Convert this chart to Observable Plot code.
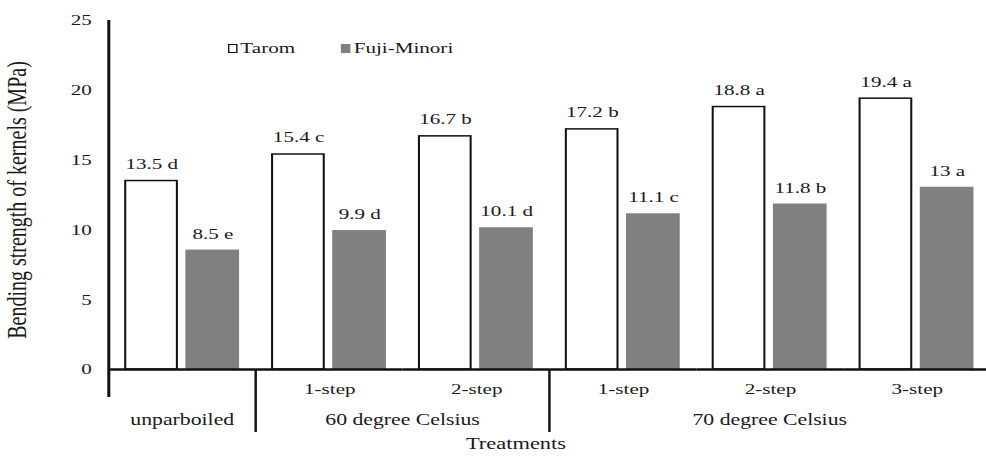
<!DOCTYPE html>
<html>
<head>
<meta charset="utf-8">
<script src="https://cdn.jsdelivr.net/npm/d3@7"></script>
<script src="https://cdn.jsdelivr.net/npm/@observablehq/plot@0.6"></script>
<style>
  html, body { margin: 0; padding: 0; background: #fff; }
  #wrap { position: relative; width: 986px; height: 458px; overflow: hidden; background: #fff; }
  #wrap, #wrap svg, #wrap svg text, #wrap div, #wrap span { font-family: "Liberation Serif", "Times New Roman", serif !important; }
  #chart svg { display: block; transform-origin: 0 0; }
  #legend { position: absolute; left: 228px; top: 39px; transform-origin: 0 0;
            font-size: 15.5px; color: #1a1a1a;
            white-space: nowrap; display: flex; align-items: center; }
  #legend .item { display: flex; align-items: center; }
  #legend .sw { display: inline-block; width: 6.6px; height: 9px; box-sizing: border-box; margin-right: 2.5px; }
</style>
</head>
<body>
<div id="wrap"><div id="chart"></div><div id="legend"></div></div>
<script>
// ---- data ----
const varieties = ["Tarom", "Fuji-Minori"];
const varietyFills = ["#ffffff", "#808080"];
const varietyStrokes = ["#111111", "#808080"];
const temperatureGroups = ["unparboiled", "60 degree Celsius", "60 degree Celsius",
                           "70 degree Celsius", "70 degree Celsius", "70 degree Celsius"];
const stepLabels = ["", "1-step", "2-step", "1-step", "2-step", "3-step"];
const taromValues = [13.5, 15.4, 16.7, 17.2, 18.8, 19.4];
const taromLetters = ["d", "c", "b", "b", "a", "a"];
const fujiValues = [8.5, 9.9, 10.1, 11.1, 11.8, 13];
const fujiLetters = ["e", "d", "d", "c", "b", "a"];
const yTicks = [0, 5, 10, 15, 20, 25];
const yLabel = "Bending strength of kernels (MPa)";
const xLabel = "Treatments";

// ---- derived tables ----
const S = 1.36; // horizontal stretch of the reference image
const treatmentIds = temperatureGroups.map((g, i) => `${g} ${stepLabels[i]}`.trim());
const stepById = new Map(treatmentIds.map((t, i) => [t, stepLabels[i]]));
const fillBy = new Map(varieties.map((v, i) => [v, varietyFills[i]]));
const strokeBy = new Map(varieties.map((v, i) => [v, varietyStrokes[i]]));
const rows = treatmentIds.flatMap((t, i) => [
  {treatment: t, variety: varieties[0], value: taromValues[i], letter: taromLetters[i]},
  {treatment: t, variety: varieties[1], value: fujiValues[i], letter: fujiLetters[i]}
]);
const groups = [];
temperatureGroups.forEach((g, i) => {
  const last = groups[groups.length - 1];
  if (last && last.name === g) last.members.push(treatmentIds[i]);
  else groups.push({name: g, members: [treatmentIds[i]]});
});

const chart = Plot.plot({
  width: 1000 / S,
  height: 458,
  marginLeft: 106 / S,
  marginRight: 6 / S,
  marginTop: 20,
  marginBottom: 89,
  style: {fontFamily: "Liberation Serif, serif", fontSize: "15.5px", color: "#1a1a1a", background: "transparent", overflow: "visible"},
  fx: {domain: treatmentIds, padding: 0},
  x: {domain: varieties, paddingInner: 0.15, paddingOuter: 0.27, axis: null},
  y: {domain: [0, 25], ticks: yTicks},
  marks: [
    Plot.axisY({ticks: yTicks, tickSize: 0, tickPadding: 13, label: null}),
    Plot.axisFx({anchor: "bottom", tickSize: 0, tickPadding: 14, label: null, tickFormat: t => stepById.get(t)}),
    Plot.barY(rows, {fx: "treatment", x: "variety", y: "value",
      fill: d => fillBy.get(d.variety), stroke: d => strokeBy.get(d.variety), strokeWidth: 1.5}),
    Plot.text(rows, {fx: "treatment", x: "variety", y: "value",
      text: d => `${d.value} ${d.letter}`, dy: -17, fill: "#1a1a1a"}),
    Plot.ruleY([0], {stroke: "#111", strokeWidth: 2.5})
  ]
});
chart.style.transform = `scaleX(${S})`;
document.getElementById("chart").appendChild(chart);

// ---- extra axis furniture drawn from Plot's own scales ----
let fxs;
try { fxs = chart.scale("fx"); } catch (e) { fxs = null; }
let fxStart, bw;
if (fxs && fxs.apply) { fxStart = t => fxs.apply(t); bw = fxs.bandwidth; }
else {
  const b = d3.scaleBand().domain(treatmentIds).range([106 / S, 1000 / S - 6 / S]);
  fxStart = t => b(t); bw = b.bandwidth();
}
const ys = chart.scale("y");
const y0 = ys.apply(0);
const svg = d3.select(chart);
const g = svg.append("g").attr("fill", "#1a1a1a");

// vertical axis line
const xLeft = fxStart(treatmentIds[0]);
g.append("line").attr("x1", xLeft).attr("x2", xLeft)
  .attr("y1", ys.apply(25)).attr("y2", y0 + 28)
  .attr("stroke", "#111").attr("stroke-width", 2.2);

// group dividers and group labels
groups.forEach((grp, k) => {
  const start = fxStart(grp.members[0]);
  const end = fxStart(grp.members[grp.members.length - 1]) + bw;
  if (k > 0) {
    g.append("line").attr("x1", start).attr("x2", start).attr("y1", y0).attr("y2", y0 + 63)
      .attr("stroke", "#111").attr("stroke-width", 1.8);
  }
  if (k === groups.length - 1) {
    g.append("line").attr("x1", end).attr("x2", end).attr("y1", y0).attr("y2", y0 + 63)
      .attr("stroke", "#111").attr("stroke-width", 1.8);
  }
  g.append("text").attr("x", (start + end) / 2).attr("y", y0 + 51).attr("dy", "0.32em")
    .attr("text-anchor", "middle").attr("font-size", 16).text(grp.name);
});

// x axis title
g.append("text").attr("x", 516 / S).attr("y", 444).attr("dy", "0.32em")
  .attr("text-anchor", "middle").attr("font-size", 16.5).text(xLabel);

// y axis title
g.append("text").attr("transform", `translate(${17 / S},200) rotate(-90)`)
  .attr("dy", "0.32em").attr("text-anchor", "middle").attr("font-size", 20).text(yLabel);

// legend
const legend = d3.select("#legend").style("transform", `scaleX(${S})`);
varieties.forEach((v, i) => {
  const item = legend.append("div").attr("class", "item").style("margin-right", i === 0 ? "34px" : "0");
  item.append("span").attr("class", "sw")
    .style("background", varietyFills[i])
    .style("border", i === 0 ? `1.5px solid ${varietyStrokes[i]}` : "none");
  item.append("span").text(v);
});
</script>
</body>
</html>
